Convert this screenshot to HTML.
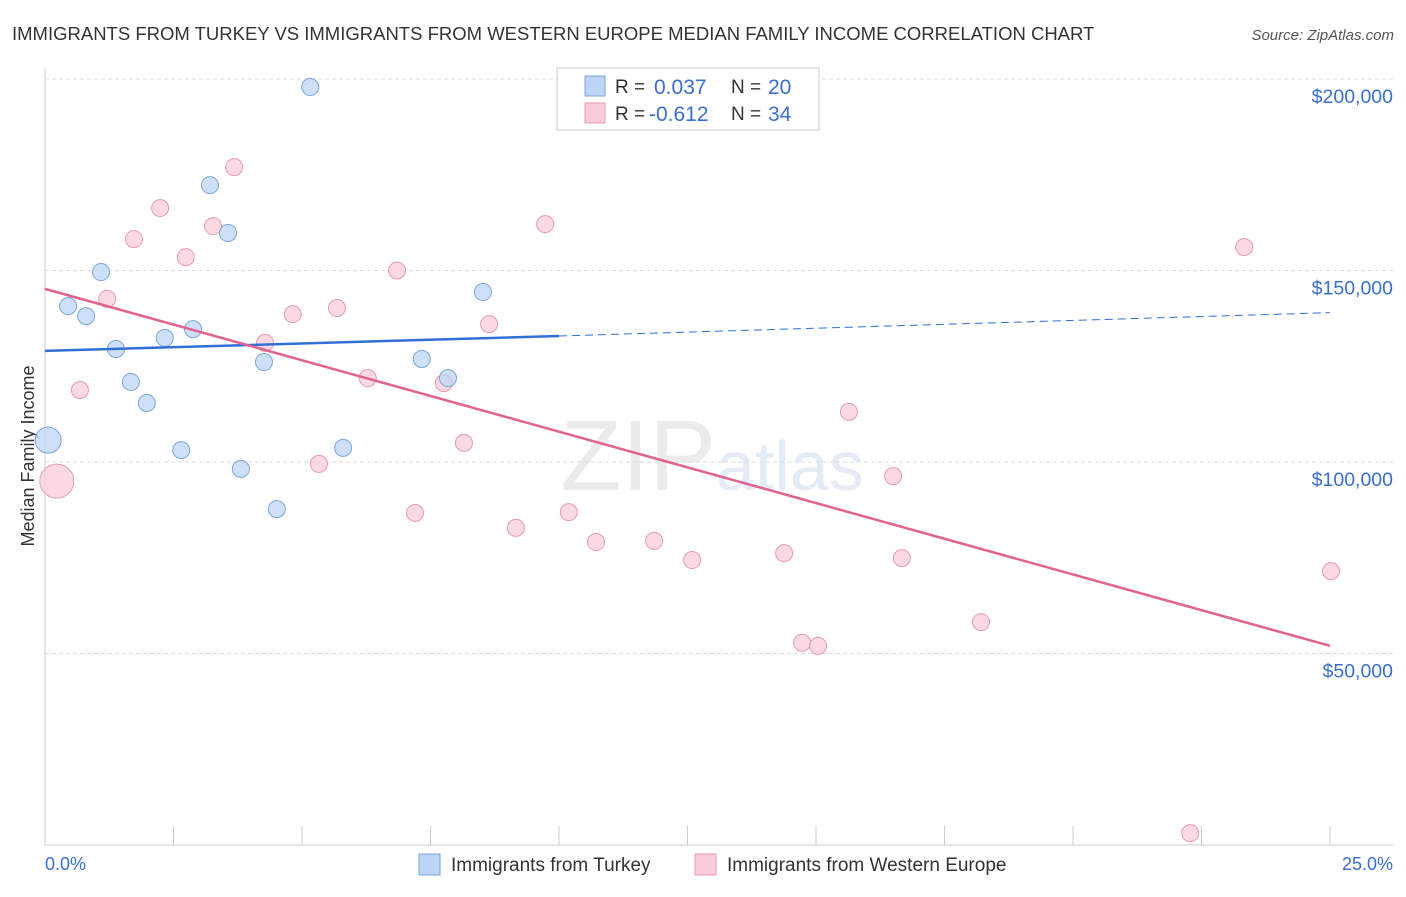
<!DOCTYPE html>
<html><head><meta charset="utf-8">
<style>
body{margin:0;background:#fff;font-family:"Liberation Sans",sans-serif;}
svg text{font-family:"Liberation Sans",sans-serif;}
</style></head>
<body>
<svg id="chart" width="1406" height="892" xmlns="http://www.w3.org/2000/svg">
<text x="12" y="40" font-size="18.5" fill="#333">IMMIGRANTS FROM TURKEY VS IMMIGRANTS FROM WESTERN EUROPE MEDIAN FAMILY INCOME CORRELATION CHART</text>
<text x="1394" y="40" font-size="15" fill="#555" font-style="italic" text-anchor="end">Source: ZipAtlas.com</text>
<text x="34" y="456" font-size="18" fill="#333" text-anchor="middle" transform="rotate(-90 34 456)">Median Family Income</text>
<text x="716" y="490" font-size="100" fill="#ebebeb" text-anchor="end" font-family="Liberation Serif">ZIP</text>
<text x="716" y="490" font-size="70" fill="#e3ebf6">atlas</text>
<g id="grid"></g><g id="marks"></g>
<g>
<rect x="557" y="68" width="262" height="62" fill="#fff" stroke="#ccc"/>
<rect x="585" y="76" width="20" height="20" fill="#bdd5f5" stroke="#7aa5de"/>
<rect x="585" y="103" width="20" height="20" fill="#f9ccd9" stroke="#e89ab3"/>
<text x="615" y="93" font-size="19" fill="#333">R =</text>
<text x="654" y="94" font-size="21" fill="#3a6fd1">0.037</text>
<text x="731" y="93" font-size="19" fill="#333">N =</text>
<text x="768" y="94" font-size="21" fill="#3a6fd1">20</text>
<text x="615" y="120" font-size="19" fill="#333">R =</text>
<text x="649" y="121" font-size="21" fill="#3a6fd1">-0.612</text>
<text x="731" y="120" font-size="19" fill="#333">N =</text>
<text x="768" y="121" font-size="21" fill="#3a6fd1">34</text>
</g>
<g>
<rect x="419" y="854" width="21" height="21" fill="#bdd5f5" stroke="#7aa5de"/>
<text x="451" y="871" font-size="19" fill="#333">Immigrants from Turkey</text>
<rect x="695" y="854" width="21" height="21" fill="#f9ccd9" stroke="#e89ab3"/>
<text x="727" y="871" font-size="19" fill="#333">Immigrants from Western Europe</text>
</g>
<text x="45" y="870" font-size="18" fill="#3a6fd1">0.0%</text>
<text x="1393" y="870" font-size="18" fill="#3a6fd1" text-anchor="end">25.0%</text>
</svg>
<script>
const yTicks=[50000,100000,150000,200000];
const yTickLabels=["$50,000","$100,000","$150,000","$200,000"];
const turkeyX=[5.16,3.21,3.56,1.09,0.45,0.80,8.52,2.33,2.88,1.38,4.26,7.33,7.84,1.67,1.98,0.06,2.65,5.80,3.81,4.51];
const turkeyY=[197.9,172.3,159.8,149.6,140.7,138.1,144.4,132.4,134.7,129.5,126.1,126.9,121.9,120.9,115.4,105.7,103.1,103.7,98.2,87.7];
const turkeyBig=[15];
const weX=[3.68,2.24,3.27,1.73,2.74,9.73,6.85,1.21,4.82,5.68,8.64,4.28,6.28,7.76,0.68,8.15,5.33,0.23,7.20,10.19,9.16,10.72,11.85,12.59,14.38,15.64,16.50,16.67,23.33,25.02,18.21,14.73,15.04,22.28];
const weY=[177.0,166.3,161.6,158.2,153.5,162.1,150.0,142.6,138.6,140.2,136.0,131.1,121.9,120.6,118.8,105.0,99.5,95.0,86.7,86.9,82.8,79.1,79.4,74.4,76.2,113.1,96.3,74.9,156.1,71.5,58.2,52.8,52.0,3.1];
const weBig=[17];
const turkeyTrend=[129.0,132.9,139.0]; // at 0%,10%,25%
const weTrend=[145.2,52.0]; // at 0%,25%
const sx=p=>45+p/25*1285;
const sy=k=>845-k*1000/50000*191.5;
const NS="http://www.w3.org/2000/svg";
function mk(t,a,parent){const e=document.createElementNS(NS,t);for(const k in a)e.setAttribute(k,a[k]);parent.appendChild(e);return e;}
const grid=document.getElementById('grid'),marks=document.getElementById('marks');
let ax=mk('line',{x1:45,y1:68,x2:45,y2:845,stroke:'#ccc'},grid);


let bx=mk('line',{x1:45,y1:845,x2:1393,y2:845,stroke:'#ccc'},grid);


mk('line',{x1:45,y1:79,x2:1393,y2:79,stroke:'#ddd','stroke-dasharray':'4 3'},grid);
yTicks.forEach((v,i)=>{const y=sy(v/1000);
const g=mk('line',{x1:45,y1:y,x2:1393,y2:y,stroke:'#ddd','stroke-dasharray':'4 3'},grid);


const t=mk('text',{x:1393,y:y+24,'font-size':19.5,fill:'#3a6fd1','text-anchor':'end'},grid);t.textContent=yTickLabels[i];

});
for(let i=1;i<=10;i++){const x=sx(i*2.5);const l=mk('line',{x1:x,y1:826,x2:x,y2:845,stroke:'#ccc'},grid);

}
weX.forEach((x,i)=>{const c=mk('circle',{cx:sx(x),cy:sy(weY[i]),r:weBig.includes(i)?17:8.5,fill:'#f9ccd9','fill-opacity':0.75,stroke:'#e89ab3'},marks);

});
turkeyX.forEach((x,i)=>{const c=mk('circle',{cx:sx(x),cy:sy(turkeyY[i]),r:turkeyBig.includes(i)?13:8.5,fill:'#bdd5f5','fill-opacity':0.75,stroke:'#7aa5de'},marks);

});
let t1=mk('line',{x1:sx(0),y1:sy(turkeyTrend[0]),x2:sx(10),y2:sy(turkeyTrend[1]),stroke:'#2f6fd6','stroke-width':2.5},marks);


let t2=mk('line',{x1:sx(10),y1:sy(turkeyTrend[1]),x2:sx(25),y2:sy(turkeyTrend[2]),stroke:'#2f6fd6','stroke-width':1,'stroke-dasharray':'8 5'},marks);


let t3=mk('line',{x1:sx(0),y1:sy(weTrend[0]),x2:sx(25),y2:sy(weTrend[1]),stroke:'#e0628e','stroke-width':2.5},marks);


</script>
</body></html>
